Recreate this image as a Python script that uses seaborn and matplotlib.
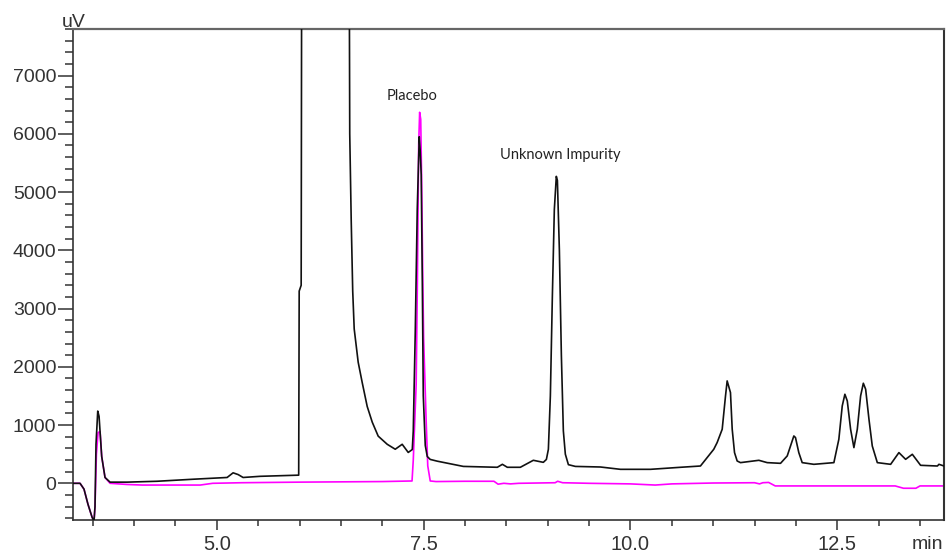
import matplotlib
matplotlib.use("Agg")
import matplotlib.pyplot as plt
import seaborn as sns
import pandas as pd
import numpy as np
from matplotlib.ticker import FixedLocator, MultipleLocator

# ---- data (time in min, signal in uV) ----
sample_time = [3.262, 3.347, 3.395, 3.443, 3.492, 3.516, 3.528, 3.54, 3.561, 3.577,
               3.589, 3.609, 3.649, 3.71, 3.915, 4.278, 4.714, 4.919, 5.125, 5.197,
               5.258, 5.318, 5.524, 5.99, 5.996, 6.02, 6.026, 6.601, 6.607, 6.625,
               6.643, 6.661, 6.709, 6.757, 6.818, 6.879, 6.951, 7.06, 7.157, 7.241,
               7.314, 7.363, 7.375, 7.399, 7.423, 7.447, 7.459, 7.471, 7.484, 7.496,
               7.52, 7.544, 7.58, 7.665, 7.98, 8.391, 8.452, 8.512, 8.669, 8.826,
               8.947, 8.984, 9.008, 9.032, 9.056, 9.08, 9.104, 9.117, 9.141, 9.165,
               9.189, 9.213, 9.25, 9.334, 9.637, 9.879, 10.242, 10.605, 10.846, 11.007,
               11.048, 11.109, 11.149, 11.169, 11.209, 11.23, 11.258, 11.29, 11.33, 11.552,
               11.653, 11.814, 11.895, 11.975, 11.995, 12.035, 12.076, 12.217, 12.459, 12.519,
               12.56, 12.592, 12.621, 12.661, 12.701, 12.742, 12.782, 12.815, 12.843, 12.883,
               12.923, 12.984, 13.145, 13.245, 13.326, 13.407, 13.507, 13.71, 13.729, 13.79]
sample_uv = [0, 0, -100, -360, -580, -650, -400, 670, 1240, 1150,
             890, 460, 100, 20, 20, 35, 70, 85, 100, 180,
             150, 100, 120, 140, 3300, 3400, 9000, 9000, 6000, 4500,
             3300, 2650, 2080, 1735, 1320, 1050, 810, 670, 585, 670,
             530, 580, 900, 2600, 4700, 5950, 5700, 5300, 3500, 1500,
             650, 460, 410, 380, 290, 275, 326, 275, 275, 395,
             360, 410, 584, 1500, 3200, 4700, 5270, 5200, 4000, 2200,
             900, 500, 320, 290, 280, 240, 240, 275, 297, 584,
             700, 928, 1500, 1758, 1558, 928, 527, 383, 355, 395,
             355, 343, 470, 813, 785, 527, 355, 326, 355, 756,
             1328, 1529, 1414, 928, 613, 928, 1500, 1718, 1615, 1100,
             641, 355, 326, 527, 412, 498, 309, 297, 326, 297]

placebo_time = [3.262, 3.347, 3.395, 3.443, 3.492, 3.516, 3.528, 3.545, 3.565, 3.589,
                3.609, 3.649, 3.71, 3.915, 4.1, 4.8, 4.95, 5.3, 6.0, 7.0,
                7.36, 7.375, 7.41, 7.425, 7.44, 7.452, 7.465, 7.475, 7.49, 7.50,
                7.53, 7.55, 7.58, 7.65, 8.0, 8.35, 8.40, 8.47, 8.55, 8.65,
                9.09, 9.12, 9.18, 9.5, 10.0, 10.3, 10.5, 11.0, 11.5, 11.56,
                11.6, 11.67, 11.75, 12.5, 13.2, 13.3, 13.45, 13.5, 13.79]
placebo_uv = [0, 0, -100, -360, -580, -650, -400, 500, 870, 890,
              460, 100, 0, -20, -30, -30, 0, 10, 20, 30,
              40, 400, 1700, 3500, 5800, 6370, 6250, 5300, 3500, 2500,
              1100, 300, 40, 30, 35, 35, -15, 0, -10, 0,
              10, 35, 10, 0, -10, -30, -10, 5, 10, -10,
              10, 15, -45, -45, -45, -85, -85, -45, -45]

x_major = [5.0, 7.5, 10.0, 12.5]
x_major_labels = ["5.0", "7.5", "10.0", "12.5"]
y_major = [0, 1000, 2000, 3000, 4000, 5000, 6000, 7000]
y_major_labels = ["0", "1000", "2000", "3000", "4000", "5000", "6000", "7000"]
annotations = [("Placebo", 7.363, 6586), ("Unknown Impurity", 9.153, 5574)]

# ---- plotting ----
sns.set_style("white")
plt.rcParams["font.family"] = ["Liberation Sans", "DejaVu Sans"]

fig = plt.figure(figsize=(9.47, 5.54), dpi=100)
ax = fig.add_axes([73 / 947, 1 - 520 / 554, (944 - 73) / 947, (520 - 29) / 554])

df_s = pd.DataFrame({"t": sample_time, "uv": sample_uv})
df_p = pd.DataFrame({"t": placebo_time, "uv": placebo_uv})
sns.lineplot(data=df_p, x="t", y="uv", ax=ax, color="#ff00ff", lw=1.2,
             estimator=None, sort=False, zorder=2)
sns.lineplot(data=df_s, x="t", y="uv", ax=ax, color="#111111", lw=1.2,
             estimator=None, sort=False, zorder=3)

ax.set_xlim(3.262, 13.79)
ax.set_ylim(-630, 7800)
ax.set_xlabel("")
ax.set_ylabel("")

ax.xaxis.set_major_locator(FixedLocator(x_major))
ax.set_xticklabels(x_major_labels)
ax.xaxis.set_minor_locator(MultipleLocator(0.5))
ax.yaxis.set_major_locator(FixedLocator(y_major))
ax.set_yticklabels(y_major_labels)
ax.yaxis.set_minor_locator(MultipleLocator(200))

tc = "#333333"
ax.tick_params(axis="x", which="major", direction="out", length=7.5, width=1.1,
               color=tc, labelsize=14.5, labelcolor=tc, pad=3, bottom=True)
ax.tick_params(axis="x", which="minor", direction="out", length=4.5, width=1.1,
               color=tc, bottom=True)
ax.tick_params(axis="y", which="major", direction="out", length=11, width=1.1,
               color=tc, labelsize=14, labelcolor=tc, pad=1, left=True)
ax.tick_params(axis="y", which="minor", direction="out", length=5.8, width=1.1,
               color=tc, left=True)

for side, col, w in [("left", "#333333", 1.2), ("bottom", "#333333", 1.2),
                     ("right", "#333333", 1.5), ("top", "#666666", 1.6)]:
    ax.spines[side].set_visible(True)
    ax.spines[side].set_color(col)
    ax.spines[side].set_linewidth(w)

for label, tx, ty in annotations:
    ax.text(tx, ty, label, ha="center", va="baseline", fontsize=10.5,
            family=["Lato", "DejaVu Sans"], color="#222222")

fig.text(74 / 947, 1 - 27 / 554, "uV", ha="center", va="baseline",
         fontsize=14, color=tc)
fig.text(943 / 947, 1 - 549 / 554, "min", ha="right", va="baseline",
         fontsize=14, color=tc)

fig.savefig("out.png", dpi=100)
